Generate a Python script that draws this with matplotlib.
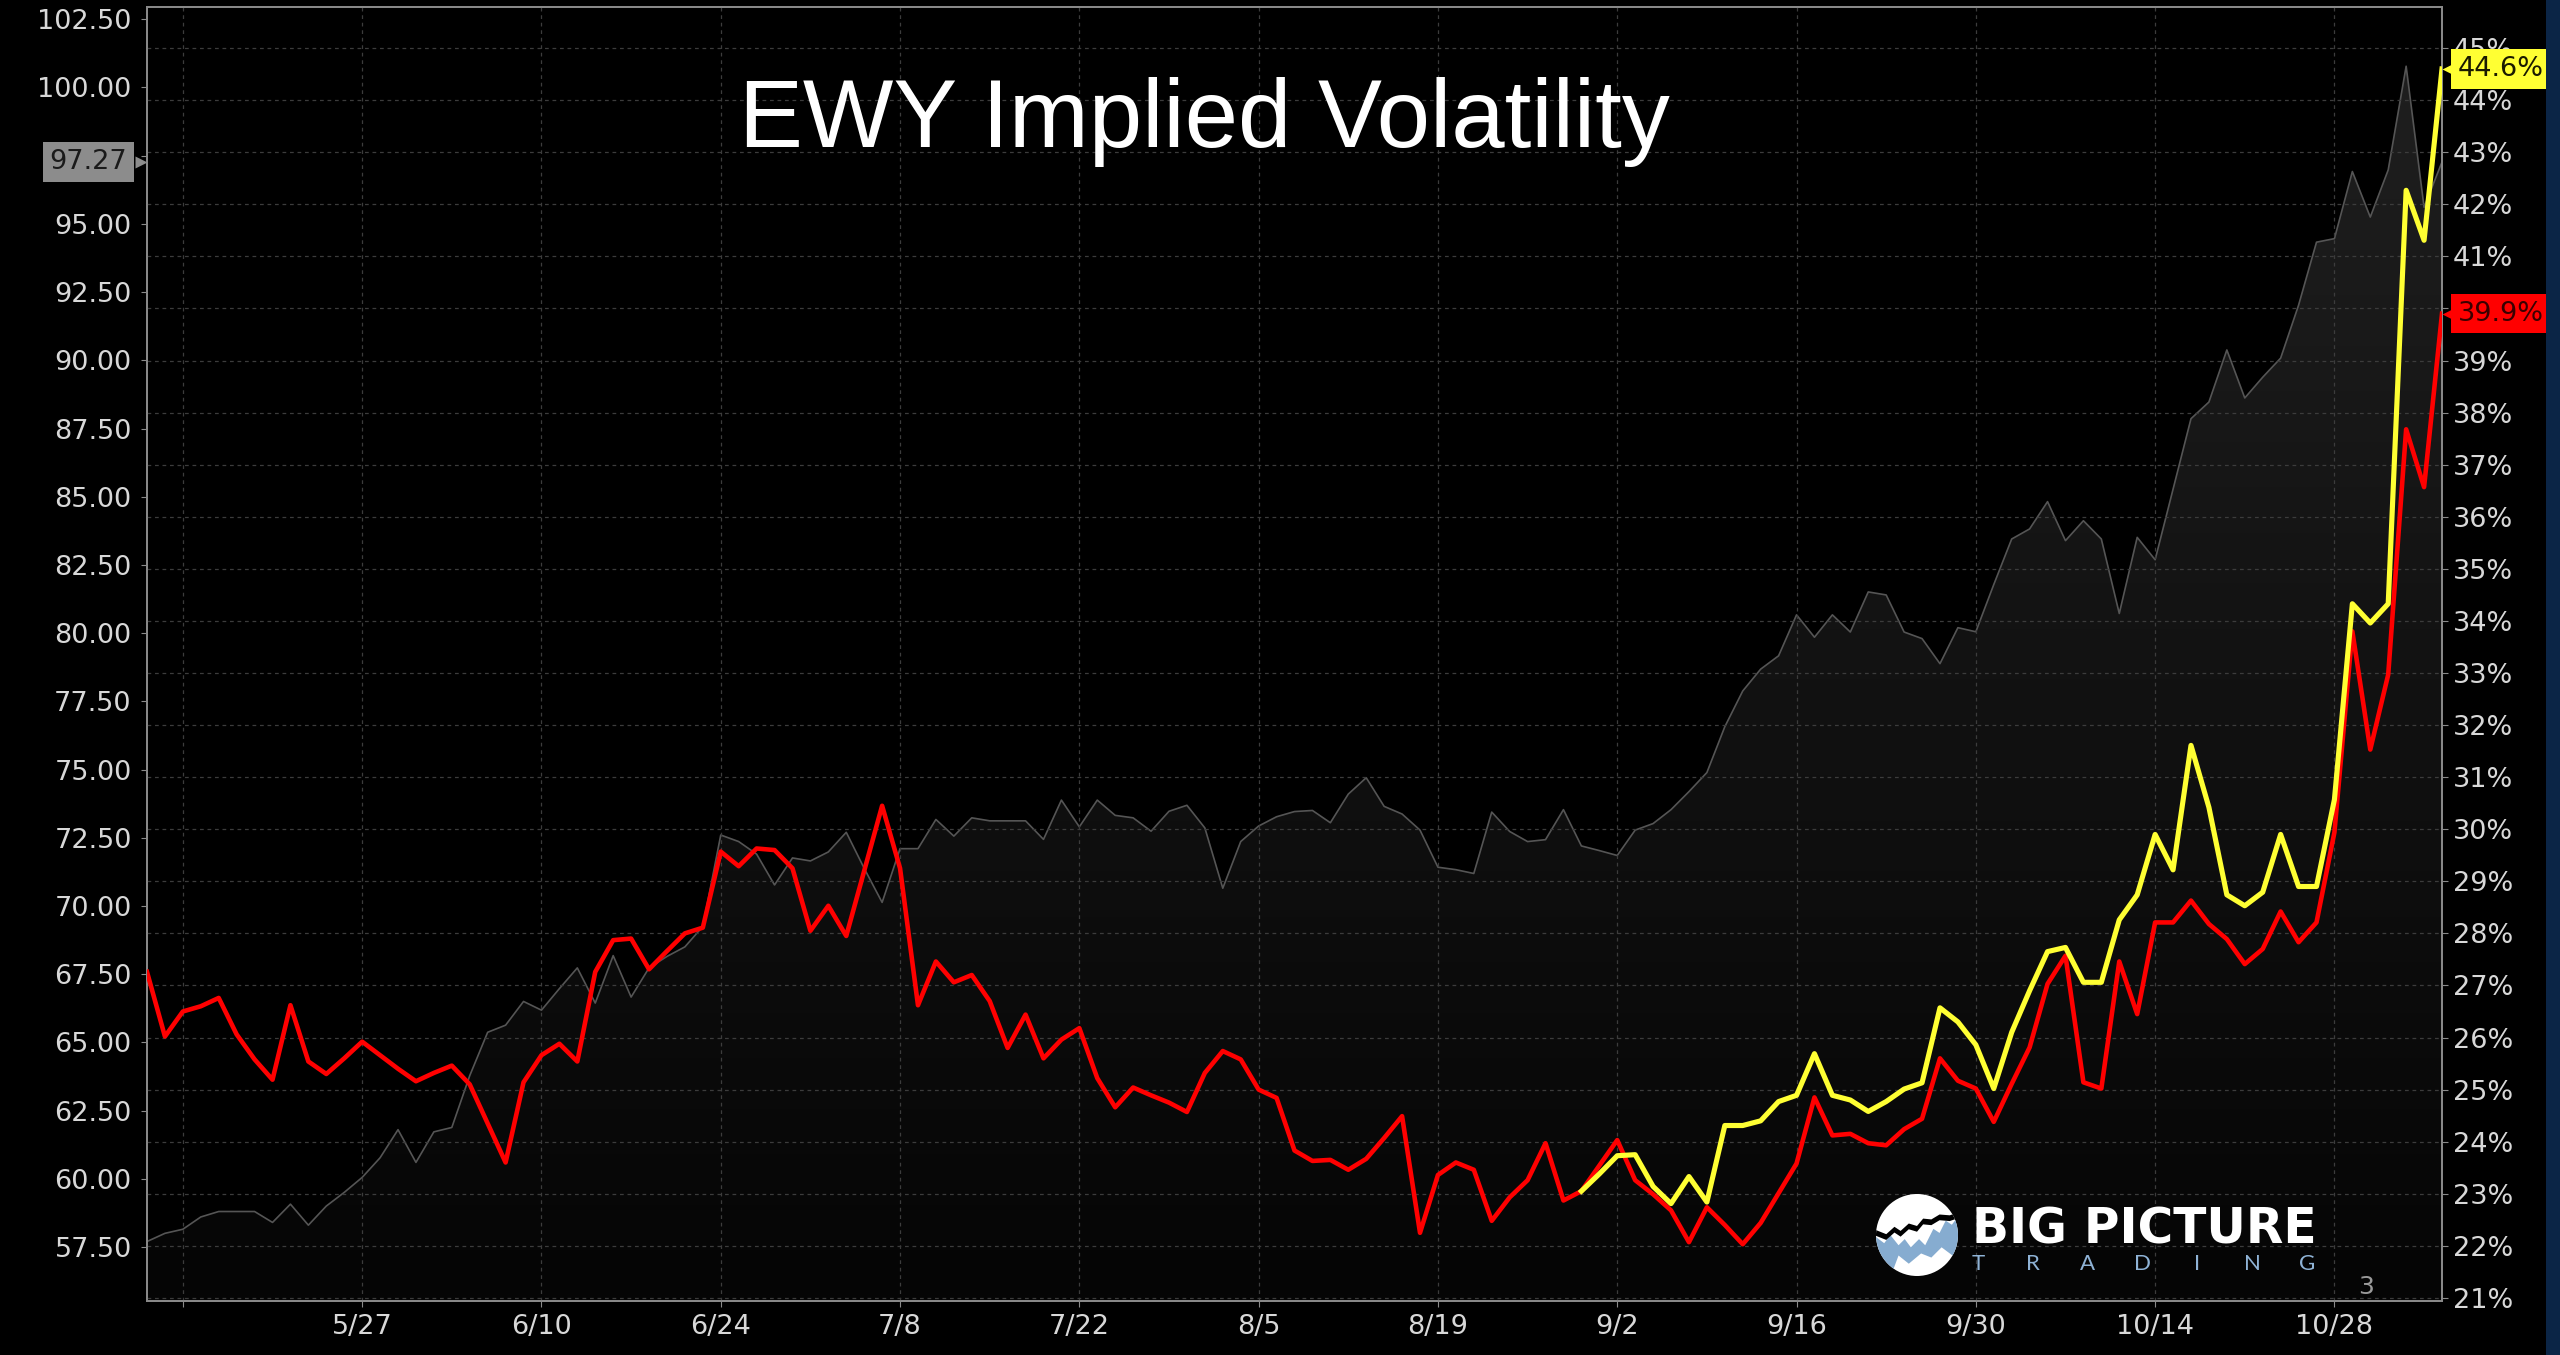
import numpy as np
import matplotlib
matplotlib.use('Agg')
import matplotlib.pyplot as plt
import matplotlib.transforms as mtransforms
from matplotlib.colors import LinearSegmentedColormap
from matplotlib.patches import Rectangle, Circle, Polygon
from matplotlib.ticker import FixedLocator, FuncFormatter

# EWY close, one value per trading day (left axis)
ewy_price = [57.7, 58.0, 58.15, 58.6, 58.8, 58.8, 58.8, 58.4, 59.07, 58.3,
             59.0, 59.5, 60.05, 60.77, 61.8, 60.6, 61.72, 61.88, 63.78, 65.37,
             65.63, 66.5, 66.18, 66.97, 67.73, 66.44, 68.18, 66.66, 67.73, 68.15,
             68.5, 69.25, 72.6, 72.36, 71.9, 70.77, 71.76, 71.65, 71.98, 72.7,
             71.38, 70.13, 72.1, 72.1, 73.17, 72.56, 73.23, 73.12, 73.12, 73.12,
             72.44, 73.88, 72.9, 73.88, 73.32, 73.23, 72.74, 73.47, 73.69, 72.86,
             70.65, 72.36, 72.93, 73.27, 73.46, 73.5, 73.05, 74.1, 74.7, 73.65,
             73.37, 72.78, 71.42, 71.33, 71.19, 73.44, 72.73, 72.36, 72.43, 73.53,
             72.2, 72.03, 71.85, 72.78, 73.02, 73.53, 74.19, 74.89, 76.57, 77.88,
             78.68, 79.17, 80.67, 79.85, 80.67, 80.04, 81.51, 81.4, 80.04, 79.8,
             78.88, 80.2, 80.05, 81.78, 83.45, 83.82, 84.82, 83.39, 84.12, 83.45,
             80.72, 83.51, 82.69, 85.28, 87.86, 88.47, 90.38, 88.62, 89.38, 90.08,
             92.02, 94.33, 94.46, 96.92, 95.25, 96.98, 100.78, 95.61, 97.27]

# implied volatility in % (right axis)
iv_red = [27.26, 26.02, 26.5, 26.6, 26.76, 26.06, 25.58, 25.19, 26.62, 25.54,
          25.3, 25.6, 25.92, 25.66, 25.4, 25.16, 25.32, 25.46, 25.1, 24.35,
          23.6, 25.14, 25.66, 25.88, 25.54, 27.26, 27.87, 27.9, 27.31, 27.66,
          28.0, 28.11, 29.57, 29.29, 29.63, 29.6, 29.25, 28.05, 28.53, 27.95,
          29.2, 30.45, 29.25, 26.62, 27.46, 27.06, 27.2, 26.7, 25.8, 26.44,
          25.6, 25.96, 26.18, 25.22, 24.66, 25.04, 24.89, 24.75, 24.57, 25.32,
          25.74, 25.58, 25.0, 24.84, 23.83, 23.63, 23.65, 23.46, 23.67, 24.07,
          24.49, 22.25, 23.36, 23.6, 23.46, 22.48, 22.93, 23.26, 23.97, 22.87,
          23.05, 23.54, 24.03, 23.26, 22.99, 22.68, 22.07, 22.74, 22.4, 22.03,
          22.44, 23.01, 23.58, 24.85, 24.12, 24.15, 23.97, 23.93, 24.24, 24.44,
          25.6, 25.17, 25.02, 24.38, 25.11, 25.81, 27.03, 27.57, 25.14, 25.02,
          27.46, 26.45, 28.21, 28.21, 28.63, 28.18, 27.89, 27.41, 27.7, 28.42,
          27.83, 28.21, 29.94, 33.8, 31.53, 32.97, 37.68, 36.57, 39.9]

iv_yellow_start = 80
iv_yellow = [23.05, 23.38, 23.73, 23.75, 23.14, 22.81, 23.33, 22.84, 24.31, 24.31,
             24.4, 24.77, 24.89, 25.69, 24.89, 24.8, 24.58, 24.77, 25.01, 25.13,
             26.57, 26.3, 25.86, 25.02, 26.1, 26.9, 27.65, 27.73, 27.06, 27.06,
             28.26, 28.74, 29.9, 29.22, 31.61, 30.42, 28.74, 28.53, 28.79, 29.9,
             28.9, 28.9, 30.57, 34.33, 33.96, 34.33, 42.27, 41.31, 44.6]

date_labels = ['', '5/27', '6/10', '6/24', '7/8', '7/22', '8/5', '8/19',
               '9/2', '9/16', '9/30', '10/14', '10/28']
first_tick = 2      # trading-day index of the first (unlabelled) tick
tick_every = 10
price_ticks = np.arange(57.5, 102.51, 2.5)
pct_ticks = np.arange(21, 46)

W, H = 2560, 1355
fig = plt.figure(figsize=(W / 100, H / 100), dpi=100, facecolor='black')
ax = fig.add_axes([147 / W, 54 / H, 2295 / W, 1294 / H])
ax.set_facecolor('black')
ax2 = ax.twinx()

x = np.arange(len(ewy_price))
plo, phi = 55.52, 102.95
vlo, vhi = 20.94, 45.79

# gray area with a vertical fade
fade = LinearSegmentedColormap.from_list('fade', ['#050505', '#202020'])
im = ax.imshow(np.linspace(0, 1, 256).reshape(-1, 1), extent=[x[0], x[-1], plo, phi],
               origin='lower', aspect='auto', cmap=fade, zorder=1)
area = ax.fill_between(x, ewy_price, plo, facecolor='none', edgecolor='none')
im.set_clip_path(area.get_paths()[0], transform=ax.transData)
ax.plot(x, ewy_price, color='#555555', lw=1.2, zorder=2)

ax2.plot(x, iv_red, color='#ff0000', lw=3.3, zorder=3)
xy = np.arange(iv_yellow_start, iv_yellow_start + len(iv_yellow))
ax2.plot(xy, iv_yellow, color='#ffff33', lw=3.7, zorder=4)

ax.set_xlim(x[0], x[-1])
ax.set_ylim(plo, phi)
ax2.set_ylim(vlo, vhi)

ax.xaxis.set_major_locator(FixedLocator(first_tick + tick_every * np.arange(len(date_labels))))
ax.set_xticklabels(date_labels)
ax.set_yticks(price_ticks)
ax.yaxis.set_major_formatter(FuncFormatter(lambda v, p: f'{v:.2f}'))
ax2.set_yticks(pct_ticks)
ax2.yaxis.set_major_formatter(FuncFormatter(lambda v, p: f'{v:.0f}%'))

grid_kw = dict(color='#3c3c3c', lw=0.9, ls=(0, (3, 3)))
ax.set_axisbelow(False)
ax.grid(axis='x', **grid_kw)
ax.grid(axis='y', visible=False)
ax2.set_axisbelow(True)
ax2.grid(axis='y', **grid_kw)

ax.tick_params(axis='x', color='#8a8a8a', labelcolor='#d8d8d8', labelsize=19.5, length=4, pad=5)
ax.tick_params(axis='y', color='#8a8a8a', labelcolor='#d8d8d8', labelsize=19.5, length=4, pad=7)
ax2.tick_params(axis='y', color='#8a8a8a', labelcolor='#d8d8d8', labelsize=19.5, length=4, pad=4)
for a in (ax, ax2):
    for s in a.spines.values():
        s.set_color('#8a8a8a')
        s.set_linewidth(1.3)

fig.text(1204 / W, 1 - 147 / H, 'EWY Implied Volatility', color='white', fontsize=69,
         family='Liberation Sans', ha='center', va='baseline')

# last value tags
tl = mtransforms.blended_transform_factory(ax.transAxes, ax.transData)
ax.text(-0.0085, ewy_price[-1], f'{ewy_price[-1]:.2f}', transform=tl, ha='right', va='center',
        fontsize=19.5, color='#1a1a1a', zorder=10, clip_on=False,
        bbox=dict(boxstyle='square,pad=0.25', fc='#8c8c8c', ec='none'))
ax.plot([-0.0028], [ewy_price[-1]], marker='>', ms=9, color='#8c8c8c', mec='none',
        transform=tl, clip_on=False, zorder=10)

tr = mtransforms.blended_transform_factory(ax2.transAxes, ax2.transData)
for val, fc, tc in [(iv_yellow[-1], '#ffff33', '#1a1a00'), (iv_red[-1], '#ff0000', '#3a0000')]:
    ax2.text(1.0068, val, f'{val:.1f}%', transform=tr, ha='left', va='center', fontsize=19.5,
             color=tc, zorder=10, clip_on=False,
             bbox=dict(boxstyle='square,pad=0.25', fc=fc, ec='none'))
    ax2.plot([1.0024], [val], marker='<', ms=9, color=fc, mec='none', transform=tr,
             clip_on=False, zorder=10)

# navy strip on the right edge
fig.patches.append(Rectangle((2546 / W, 0), 14 / W, 1, transform=fig.transFigure,
                             fc='#0b2546', ec='none', zorder=20))

fig.text(2366 / W, 1 - 1287 / H, '3', color='#9a9a9a', fontsize=18, ha='center', va='center')

# watermark logo
cx, cy, r = 19.17, 1.20, 0.41
disc = Circle((cx, cy), r, transform=fig.dpi_scale_trans, fc='white', ec='none', zorder=5)
fig.patches.append(disc)
blue = [(-1.0, -0.05), (-0.8, -0.2), (-0.65, 0.0), (-0.45, -0.25), (-0.3, -0.1), (-0.15, -0.3),
        (0.05, -0.1), (0.2, -0.25), (0.4, 0.15), (0.55, 0.05), (0.7, 0.35), (0.85, 0.25),
        (1.0, 0.45), (1.0, -0.6), (0.6, -0.3), (0.35, -0.55), (0.1, -0.45), (-0.2, -0.7),
        (-0.45, -0.5), (-0.6, -0.9), (-1.0, -0.9)]
band = [(-1.0, 0.12), (-0.75, 0.02), (-0.55, 0.2), (-0.4, 0.1), (-0.2, 0.28), (0.0, 0.22),
        (0.15, 0.4), (0.35, 0.38), (0.55, 0.5), (0.8, 0.48), (1.0, 0.55)]
band = band + [(px, py - 0.14) for px, py in band[::-1]]
for pts, col in [(blue, '#86acd0'), (band, 'black')]:
    poly = Polygon([(cx + px * r, cy + py * r) for px, py in pts], closed=True,
                   transform=fig.dpi_scale_trans, fc=col, ec='none', zorder=6)
    poly.set_clip_path(disc)
    fig.patches.append(poly)

fig.text(1972 / W, 1 - 1243 / H, 'BIG PICTURE', color='white', fontsize=35, weight='bold',
         family='DejaVu Sans', ha='left', va='baseline')
for lx, ch in zip(np.linspace(1978, 2307, 7), 'TRADING'):
    fig.text(lx / W, 1 - 1270 / H, ch, color='#8fb3d6', fontsize=16, family='Lato',
             weight='normal', ha='center', va='baseline')

fig.savefig('out.png', dpi=100, facecolor='black')
